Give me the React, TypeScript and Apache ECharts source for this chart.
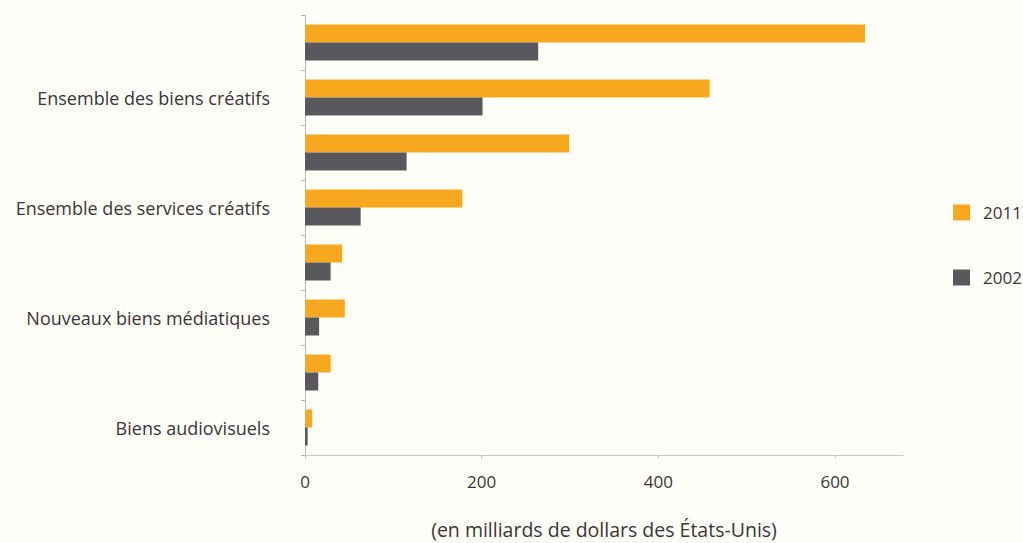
import React, { useEffect, useRef } from "react";
import * as echarts from "echarts";

const categories = [
  "",
  "Ensemble des biens créatifs",
  "",
  "Ensemble des services créatifs",
  "",
  "Nouveaux biens médiatiques",
  "",
  "Biens audiovisuels",
];
const values2011 = [634, 458, 299, 178, 42, 45, 29, 8];
const values2002 = [264, 201, 115, 63, 29, 16, 15, 3];
const xTicks = [0, 200, 400, 600];
const axisTitle = "(en milliards de dollars des États-Unis)";

const FONT = "'Open Sans', 'Noto Sans', sans-serif";
const TEXT = "#3a3538";

export default function App() {
  const ref = useRef<HTMLDivElement>(null);
  useEffect(() => {
    if (!ref.current) return;
    const chart = echarts.init(ref.current, undefined, { renderer: "svg" });
    chart.setOption({
      animation: false,
      backgroundColor: "#fffef8",
      textStyle: { fontFamily: FONT },
      grid: {
        left: 305,
        right: 120,
        top: 15,
        bottom: 88,
        containLabel: false,
        outerBoundsMode: "none",
      },
      legend: {
        orient: "vertical",
        left: 948,
        top: 199,
        itemWidth: 17,
        itemHeight: 16,
        itemGap: 48,
        icon: "rect",
        textStyle: { fontSize: 17, color: TEXT, fontFamily: FONT, padding: [0, 0, 0, 8] },
        data: ["2011", "2002"],
      },
      xAxis: {
        type: "value",
        min: 0,
        max: 677,
        interval: 200,
        name: axisTitle,
        nameLocation: "middle",
        nameGap: 63,
        nameTextStyle: { fontSize: 19.5, color: TEXT, fontFamily: FONT, lineHeight: 22 },
        axisLine: { show: true, lineStyle: { color: "#c8c8c8", width: 1 } },
        axisTick: { show: true, length: 3, lineStyle: { color: "#bbb" } },
        splitLine: { show: false },
        axisLabel: {
          fontSize: 17,
          color: TEXT,
          margin: 18,
          showMaxLabel: false,
          formatter: (v: number) => (xTicks.includes(v) ? String(v) : ""),
        },
      },
      yAxis: {
        type: "category",
        inverse: true,
        data: categories,
        axisLine: { show: true, lineStyle: { color: "#b8b8b8", width: 1 } },
        axisTick: { show: true, interval: 0, length: 4, lineStyle: { color: "#b8b8b8" } },
        axisLabel: {
          interval: (i: number) => i % 2 === 1,
          fontSize: 18,
          color: TEXT,
          margin: 35,
        },
      },
      series: [
        {
          name: "2011",
          type: "bar",
          data: values2011,
          barWidth: 18,
          barGap: "0%",
          itemStyle: { color: "#f7a81f" },
        },
        {
          name: "2002",
          type: "bar",
          data: values2002,
          barWidth: 18,
          barGap: "0%",
          itemStyle: { color: "#59585c" },
        },
      ],
    });
    return () => chart.dispose();
  }, []);
  return (
    <div
      ref={ref}
      style={{ position: "fixed", left: 0, top: 0, width: 1023, height: 543 }}
    />
  );
}
